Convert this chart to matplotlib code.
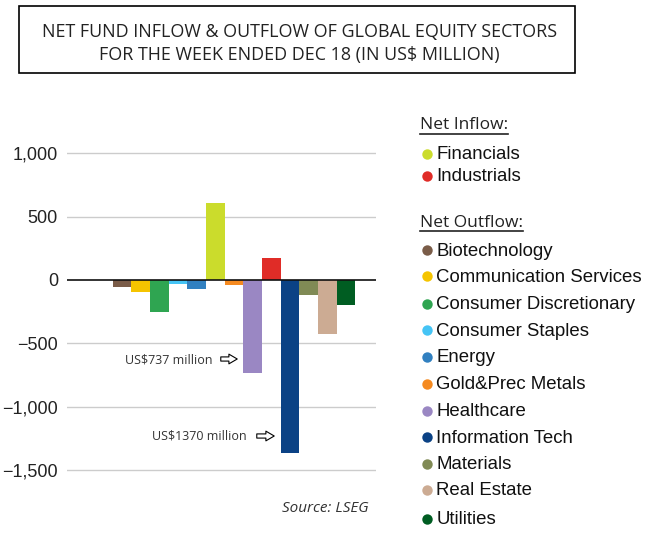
import matplotlib
matplotlib.use("Agg")
import matplotlib.pyplot as plt
from matplotlib.patches import Rectangle
from matplotlib.lines import Line2D

# DATA
# weekly net flows by sector, US$ million

sectors = ["Biotechnology", "Communication Services", "Consumer Discretionary",
           "Consumer Staples", "Energy", "Financials", "Gold&Prec Metals",
           "Healthcare", "Industrials", "Information Tech", "Materials",
           "Real Estate", "Utilities"]
flows = [-55, -95, -255, -30, -75, 605, -40, -737, 170, -1370, -117, -430, -200]
colors = ["#7a5c48", "#f5c400", "#2fa551", "#45c4f5", "#3180c0", "#cbdc2c",
          "#f58a20", "#9a87c3", "#e02c27", "#0b4285", "#808a55", "#ccab93",
          "#005d22"]
yticks = [1000, 500, 0, -500, -1000, -1500]
ytick_labels = ["1,000", "500", "0", "\u2212500", "\u22121,000", "\u22121,500"]

inflow = [s for s, v in zip(sectors, flows) if v > 0]
outflow = [s for s, v in zip(sectors, flows) if v <= 0]

W, H = 658, 534
fig = plt.figure(figsize=(W / 100, H / 100), dpi=100)

# BAR CHART
ax = fig.add_axes([67 / W, (H - 482.5) / H, 309 / W, 341.9 / H])
ax.bar(range(len(flows)), flows, width=1.0, color=colors, zorder=3)
ax.set_xlim(-2.95, 13.6)
ax.set_ylim(-1600, 1100)
ax.set_yticks(yticks)
ax.set_yticklabels(ytick_labels, fontsize=13, family="Liberation Sans", color="#222222")
ax.set_xticks([])
ax.tick_params(axis="y", length=0, pad=6.5)
for s in ax.spines.values():
    s.set_visible(False)
for t in yticks:
    if t == 0:
        ax.axhline(0, color="#111111", lw=1.2, zorder=4)
    else:
        ax.axhline(t, color="#cccccc", lw=1.0, zorder=1)

# OVERLAY in pixel coords for title, legend and notes
ov = fig.add_axes([0, 0, 1, 1])
ov.set_xlim(0, W)
ov.set_ylim(H, 0)
ov.axis("off")

ov.add_patch(Rectangle((18.7, 5.7), 556.3, 67, fill=False, ec="black", lw=1.2))
ov.text(299.5, 36.7, "NET FUND INFLOW & OUTFLOW OF GLOBAL EQUITY SECTORS",
        ha="center", va="baseline", fontsize=12.9, family="Open Sans", color="#222222")
ov.text(299.5, 60, "FOR THE WEEK ENDED DEC 18 (IN US$ MILLION)",
        ha="center", va="baseline", fontsize=12.9, family="Open Sans", color="#222222")

# legend
def header(y, label):
    t = ov.text(420, y, label, va="baseline", fontsize=12.5, family="Open Sans", color="#222222")
    fig.canvas.draw()
    bb = t.get_window_extent().transformed(ov.transData.inverted())
    ov.add_line(Line2D([420, bb.x1], [y + 4.7, y + 4.7], color="#222222", lw=1.2))

header(129.3, "Net Inflow:")
header(226.7, "Net Outflow:")

in_base = [159.3, 181]
out_base = [255.7, 281.7, 309.3, 335.7, 362.3, 389.3, 416, 442.7, 469, 495, 524]
for names, bases in [(inflow, in_base), (outflow, out_base)]:
    for name, yb in zip(names, bases):
        c = colors[sectors.index(name)]
        ov.plot(427, yb - 5.5, "o", ms=7.5, color=c, mec="none")
        ov.text(436.5, yb, name, va="baseline", fontsize=13.4,
                family="Liberation Sans", color="#111111")

# call-outs
arrow = dict(arrowstyle="simple,head_length=0.6,head_width=0.7,tail_width=0.3",
             fc="white", ec="black", lw=0.8)
ov.text(125, 363.3, "US$737 million", va="baseline", fontsize=9,
        family="Open Sans", color="#333333")
ov.annotate("", xy=(240, 359), xytext=(218, 359), arrowprops=arrow)
ov.text(151.7, 439.3, "US$1370 million", va="baseline", fontsize=9,
        family="Open Sans", color="#333333")
ov.annotate("", xy=(277, 436), xytext=(254, 436), arrowprops=arrow)

ov.text(368.5, 511.7, "Source: LSEG", ha="right", va="baseline", fontsize=11,
        family="Open Sans", style="italic", color="#333333")

fig.savefig("out.png", dpi=100)
